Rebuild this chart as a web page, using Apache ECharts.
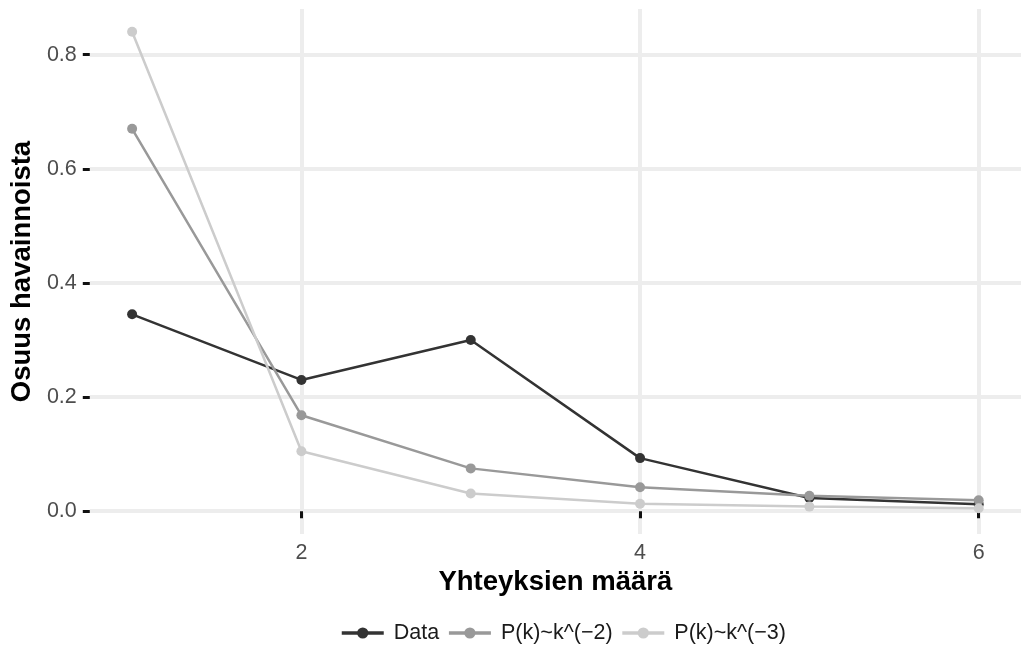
<!DOCTYPE html>
<html>
<head>
<meta charset="utf-8">
<script src="https://cdn.jsdelivr.net/npm/echarts@6/dist/echarts.min.js"></script>
<style>
html,body{margin:0;padding:0;background:#fff;}
#chart{width:1021px;height:645px;}
</style>
</head>
<body>
<div id="chart"></div>
<script>
// Data
var kValues = [1, 2, 3, 4, 5, 6];
var dataShare = [0.345, 0.230, 0.300, 0.093, 0.023, 0.012];
var powerLaw2 = [0.670, 0.168, 0.075, 0.042, 0.027, 0.019];
var powerLaw3 = [0.840, 0.105, 0.031, 0.013, 0.008, 0.005];
var seriesNames = ['Data', 'P(k)~k^(\u22122)', 'P(k)~k^(\u22123)'];
var seriesColors = ['#333333', '#999999', '#cccccc'];
var xTicks = [2, 4, 6];
var yTicks = [0, 0.2, 0.4, 0.6, 0.8];
var xTitle = 'Yhteyksien m\u00e4\u00e4r\u00e4';
var yTitle = 'Osuus havainnoista';

function pairs(ys) { return kValues.map(function (k, i) { return [k, ys[i]]; }); }
var allSeries = [dataShare, powerLaw2, powerLaw3];

var font = 'Liberation Sans, Arial, sans-serif';
var chart = echarts.init(document.getElementById('chart'), null, {renderer: 'canvas'});
chart.setOption({
  animation: false,
  backgroundColor: '#ffffff',
  textStyle: {fontFamily: font},
  grid: {left: 88, top: 9, width: 947, height: 525, containLabel: false},
  legend: {
    left: 340, top: 622, padding: 0,
    itemWidth: 42, itemHeight: 14, itemGap: 8,
    lineStyle: {width: 3.5},
    textStyle: {fontFamily: font, fontSize: 21.5, color: '#1a1a1a', padding: [0, 0, 0, 5]},
    data: seriesNames
  },
  xAxis: {
    type: 'value', min: 0.75, max: 6.25,
    name: xTitle, nameLocation: 'middle', nameGap: 34,
    nameTextStyle: {fontFamily: font, fontSize: 27.5, fontWeight: 'bold', color: '#000'},
    axisLine: {show: false},
    axisTick: {show: true, customValues: xTicks, length: 7, lineStyle: {color: '#111', width: 3}},
    axisLabel: {customValues: xTicks, margin: 8, fontSize: 21.5, color: '#4d4d4d', fontFamily: font},
    splitLine: {show: true, lineStyle: {color: '#ededed', width: 4}}
  },
  yAxis: {
    type: 'value', min: -0.04, max: 0.88,
    name: yTitle, nameLocation: 'middle', nameGap: 46, nameRotate: 90,
    nameTextStyle: {fontFamily: font, fontSize: 27.5, fontWeight: 'bold', color: '#000'},
    axisLine: {show: false},
    axisTick: {show: true, customValues: yTicks, length: 7, lineStyle: {color: '#111', width: 3}},
    axisLabel: {customValues: yTicks, margin: 13, fontSize: 21.5, color: '#4d4d4d', fontFamily: font,
      formatter: function (v) { return v.toFixed(1); }},
    splitLine: {show: true, lineStyle: {color: '#ededed', width: 4}}
  },
  series: allSeries.map(function (ys, i) {
    return {
      name: seriesNames[i], type: 'line', data: pairs(ys),
      symbol: 'circle', symbolSize: 10, showSymbol: true,
      itemStyle: {color: seriesColors[i]},
      lineStyle: {color: seriesColors[i], width: 2.5},
      emphasis: {disabled: true}
    };
  })
});
</script>
</body>
</html>
